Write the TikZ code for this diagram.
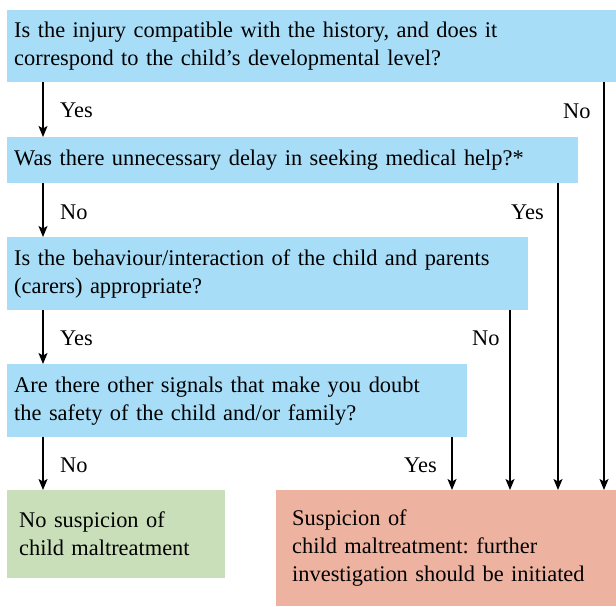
\documentclass[tikz,border=0pt]{standalone}
\usepackage{fontspec}
\setmainfont{Liberation Serif}
\usetikzlibrary{arrows.meta}
\definecolor{qblue}{RGB}{168,221,247}
\definecolor{qgreen}{RGB}{201,223,185}
\definecolor{qred}{RGB}{237,179,160}
\begin{document}
\frenchspacing
\begin{tikzpicture}[x=1pt,y=-1pt,
  every node/.style={font=\fontsize{22.4}{28}\selectfont},
  box/.style={rectangle, anchor=north west, align=left, inner ysep=0pt, inner xsep=7pt},
  qbox/.style={box, fill=qblue},
  arr/.style={line width=1.5pt, -{Stealth[length=11pt,width=9pt,inset=2.5pt]}},
  lbl/.style={anchor=west, inner sep=0pt}]
\useasboundingbox (0,0) rectangle (616,606);
\node[qbox, minimum width=609pt, minimum height=72pt, text width=595pt] (b1) at (7,10)
  {Is the injury compatible with the history, and does it\\correspond to the child’s developmental level?};
\node[qbox, minimum width=571pt, minimum height=46pt, text width=557pt] (b2) at (7,137)
  {Was there unnecessary delay in seeking medical help?*};
\node[qbox, minimum width=521pt, minimum height=73pt, text width=507pt] (b3) at (7,237)
  {Is the behaviour/interaction of the child and parents\\(carers) appropriate?};
\node[qbox, minimum width=460pt, minimum height=73pt, text width=446pt] (b4) at (7,364)
  {Are there other signals that make you doubt\\the safety of the child and/or family?};
\node[box, fill=qgreen, inner xsep=12pt, minimum width=218pt, minimum height=88pt, text width=194pt] (ok) at (7,490)
  {No suspicion of\\child maltreatment};
\node[box, fill=qred, inner xsep=16pt, minimum width=340pt, minimum height=116pt, text width=308pt] (sus) at (276,490)
  {Suspicion of\\child maltreatment: further\\investigation should be initiated};
\coordinate (L) at (43,0);
\coordinate (R1) at (604,0);
\coordinate (R2) at (558,0);
\coordinate (R3) at (510,0);
\coordinate (R4) at (452,0);
\draw[arr] (b1.south -| L) -- (b2.north -| L);
\draw[arr] (b2.south -| L) -- (b3.north -| L);
\draw[arr] (b3.south -| L) -- (b4.north -| L);
\draw[arr] (b4.south -| L) -- (ok.north -| L);
\draw[arr] (b1.south -| R1) -- (sus.north -| R1);
\draw[arr] (b2.south -| R2) -- (sus.north -| R2);
\draw[arr] (b3.south -| R3) -- (sus.north -| R3);
\draw[arr] (b4.south -| R4) -- (sus.north -| R4);
\node[lbl] (y1) at (60,110) {Yes};
\node[lbl] (n1) at (563,111) {No};
\node[lbl] (n2) at (60,212) {No};
\node[lbl] (y2) at (511,212) {Yes};
\node[lbl] (y3) at (60,338) {Yes};
\node[lbl] (n3) at (472,338) {No};
\node[lbl] (n4) at (60,465) {No};
\node[lbl] (y4) at (404,465) {Yes};
\end{tikzpicture}
\end{document}
